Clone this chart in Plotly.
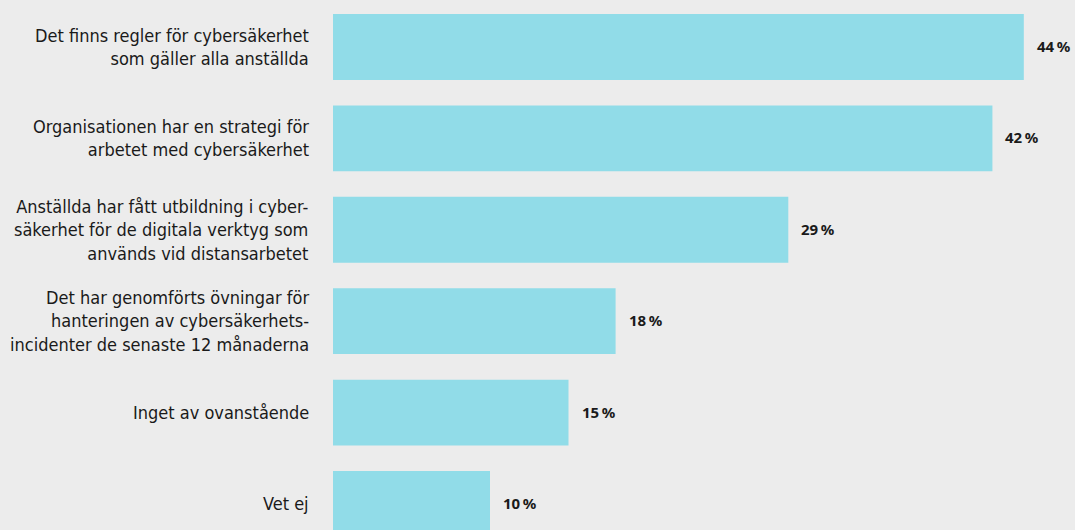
import plotly.graph_objects as go

categories = [
    "Det finns regler för cybersäkerhet<br>som gäller alla anställda",
    "Organisationen har en strategi för<br>arbetet med cybersäkerhet",
    "Anställda har fått utbildning i cyber-<br>säkerhet för de digitala verktyg som<br>används vid distansarbetet",
    "Det har genomförts övningar för<br>hanteringen av cybersäkerhets-<br>incidenter de senaste 12 månaderna",
    "Inget av ovanstående",
    "Vet ej",
]
values = [44, 42, 29, 18, 15, 10]
value_labels = ["44\u2009%", "42\u2009%", "29\u2009%", "18\u2009%", "15\u2009%", "10\u2009%"]

BG = "#ececec"
BAR = "#91dce8"
TEXT = "#1a1a1a"
LABEL_FONT = "Liberation Sans Narrow, DejaVu Sans Condensed, Arial Narrow, sans-serif"

pos = list(range(len(categories)))

fig = go.Figure()
fig.add_trace(
    go.Bar(
        x=values,
        y=pos,
        orientation="h",
        width=0.72,
        marker=dict(color=BAR, line=dict(width=0)),
        hoverinfo="skip",
    )
)

# category labels, right aligned left of the bars
for p, cat in zip(pos, categories):
    fig.add_annotation(
        x=0, y=p, text=cat, showarrow=False,
        xanchor="right", yanchor="middle", align="right", xshift=-22,
        font=dict(family=LABEL_FONT, size=18, color=TEXT),
    )

# value labels
for p, v, lab in zip(pos, values, value_labels):
    fig.add_annotation(
        x=v, y=p, text="<b>" + lab + "</b>", showarrow=False,
        xanchor="left", yanchor="middle", xshift=11, yshift=1,
        font=dict(family="Noto Sans", size=15, color=TEXT),
    )

fig.update_layout(
    width=1075,
    height=530,
    margin=dict(l=333, r=0, t=0, b=0),
    paper_bgcolor=BG,
    plot_bgcolor=BG,
    showlegend=False,
    xaxis=dict(range=[0, 47.26], visible=False, fixedrange=True),
    yaxis=dict(range=[5.285, -0.514], visible=False, fixedrange=True),
)

fig.write_html(
    "out.html",
    config={"displayModeBar": False},
    post_script="document.body.style.margin='0';",
)
